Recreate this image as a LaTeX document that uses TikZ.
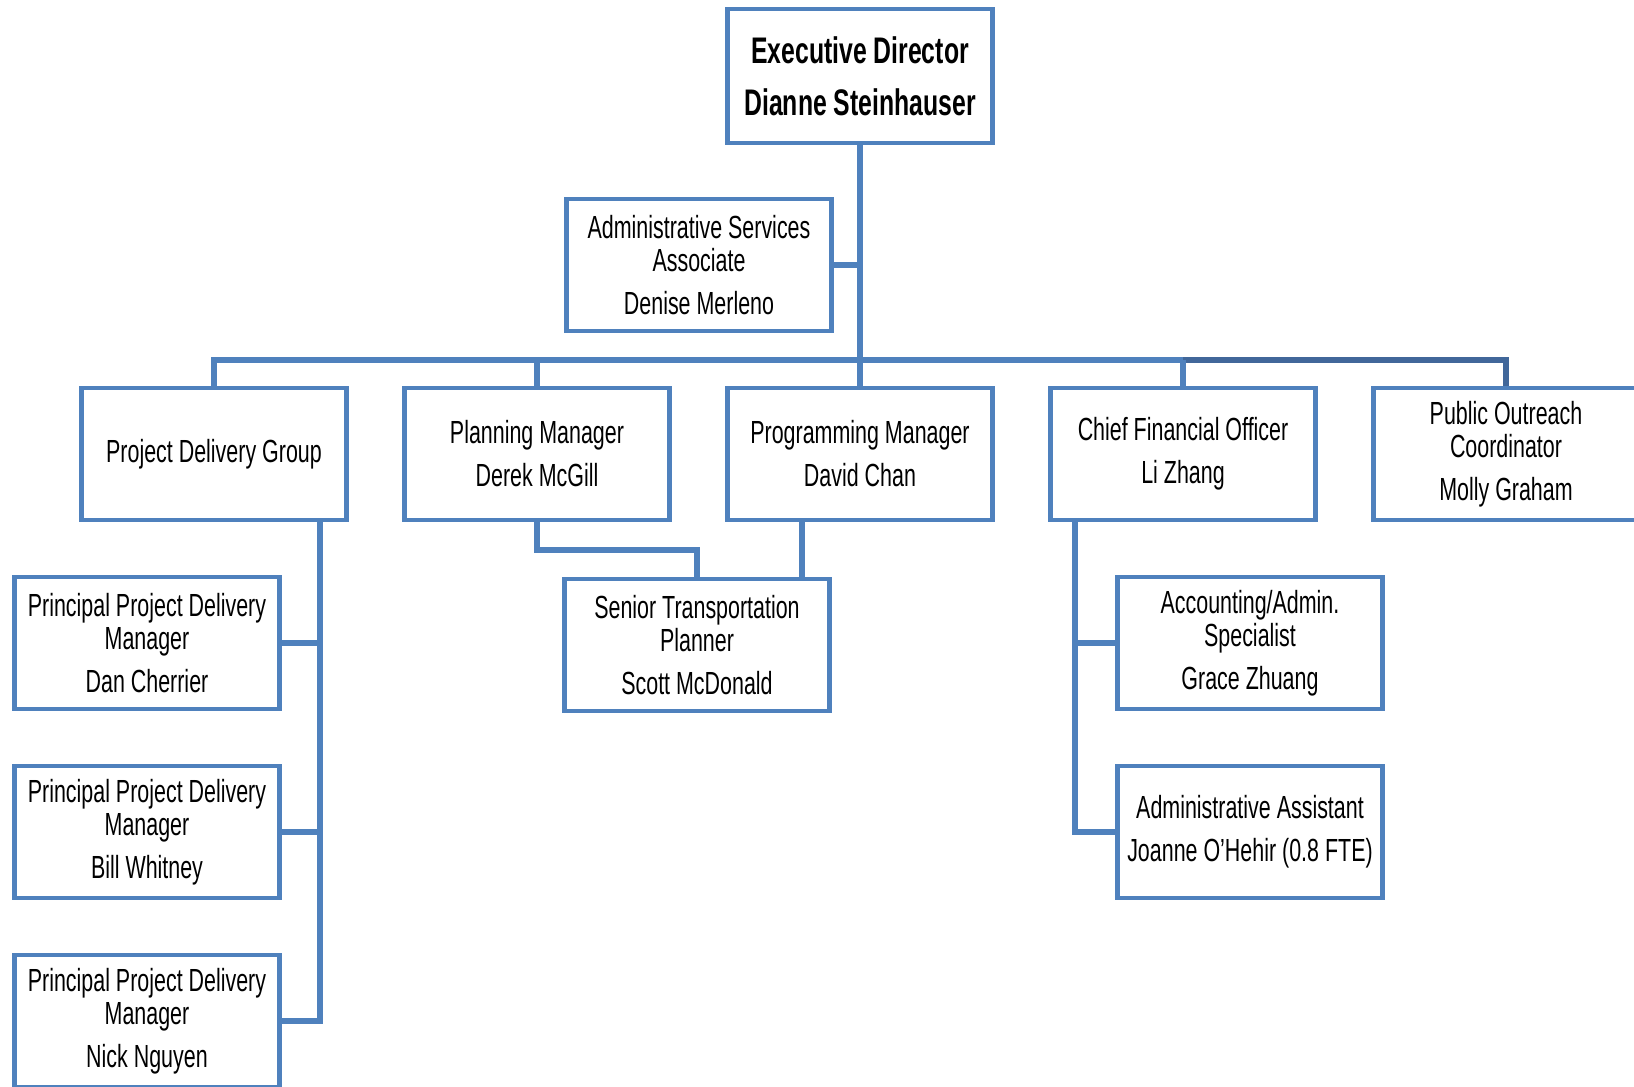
\documentclass[tikz,border=0pt]{standalone}
\usepackage{fontspec}
\setmainfont{Liberation Sans}[FakeStretch=0.67]
\usetikzlibrary{positioning,calc}
\definecolor{orgblue}{HTML}{4F81BD}
\definecolor{orgdark}{HTML}{41679A}

\begin{document}
\begin{tikzpicture}[
    x=0.5pt, y=-0.5pt,
    box/.style={rectangle, draw=orgblue, line width=2.4pt, fill=white, minimum width=132.6pt, minimum height=66pt, align=center, inner sep=2pt, font=\fontsize{16}{16.5}\selectfont},
    head/.style={box, minimum height=67pt, font=\bfseries\fontsize{18.5}{26}\selectfont},
    link/.style={draw=orgblue, line width=2.6pt},
    linkdark/.style={draw=orgdark, line width=2.6pt}
]
    \useasboundingbox (0,0) rectangle (1634,1087);

    % top
    \node[head] (exec) at (860,76) {Executive Director\\Dianne Steinhauser};
    \node[box] (asa) at (699,265) {Administrative Services\\Associate\\[5pt]Denise Merleno};

    % second row
    \node[box] (pdg) at (214,454) {Project Delivery Group};
    \node[box] (plan) at (537,454) {Planning Manager\\[5pt]Derek McGill};
    \node[box] (prog) at (860,454) {Programming Manager\\[5pt]David Chan};
    \node[box] (cfo) at (1183,454) {Chief Financial Officer\\[5pt]Li Zhang};
    \node[box] (pub) at (1506,454) {Public Outreach\\Coordinator\\[5pt]Molly Graham};

    % third level
    \node[box] (stp) at (697,645) {Senior Transportation\\Planner\\[5pt]Scott McDonald};
    \node[box] (ppdm1) at (147,643) {Principal Project Delivery\\Manager\\[5pt]Dan Cherrier};
    \node[box] (ppdm2) at (147,832) {Principal Project Delivery\\Manager\\[5pt]Bill Whitney};
    \node[box] (ppdm3) at (147,1021) {Principal Project Delivery\\Manager\\[5pt]Nick Nguyen};
    \node[box] (acct) at (1250,643) {Accounting/Admin.\\Specialist\\[5pt]Grace Zhuang};
    \node[box] (aa) at (1250,832) {Administrative Assistant\\[5pt]Joanne O'Hehir (0.8 FTE)};

    \coordinate (bus) at (860,360);
    \coordinate (elbow) at (537,550);
    \coordinate (pdgspine) at ([xshift=53pt]pdg.south);
    \coordinate (cfospine) at ([xshift=-54pt]cfo.south);

    \draw[link] (exec.south) -- (prog.north);
    \draw[link] (asa.east) -- (asa.east -| exec.south);
    \draw[link] (pdg.north) -- (pdg.north |- bus) -- (cfo.north |- bus);
    \draw[linkdark] (cfo.north |- bus) -| (pub.north);
    \draw[link] (plan.north |- bus) -- (plan.north);
    \draw[link] (cfo.north |- bus) -- (cfo.north);

    \draw[link] (plan.south) -- (elbow) -| (stp.north);
    \draw[link] ([xshift=-29pt]prog.south) -- ([xshift=-29pt]prog.south |- stp.north);

    \draw[link] (pdgspine) |- (ppdm3.east);
    \draw[link] (ppdm1.east) -- (ppdm1.east -| pdgspine);
    \draw[link] (ppdm2.east) -- (ppdm2.east -| pdgspine);

    \draw[link] (cfospine) |- (aa.west);
    \draw[link] (acct.west) -- (acct.west -| cfospine);
\end{tikzpicture}
\end{document}
